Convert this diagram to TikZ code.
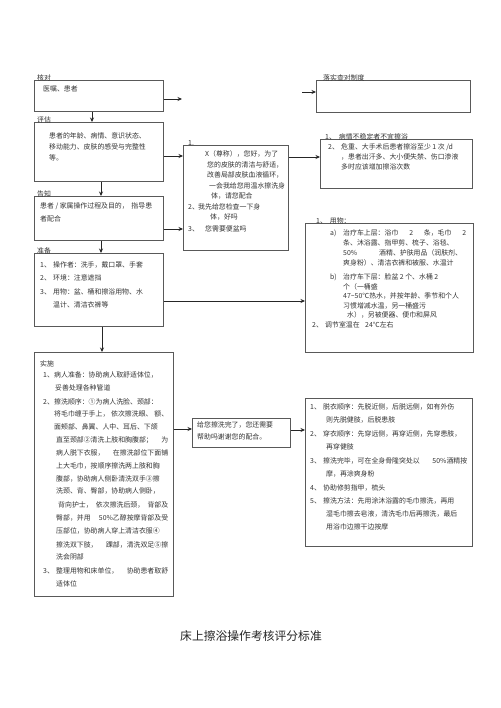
\documentclass[tikz,border=0pt]{standalone}
\usepackage{fontspec}
\setmainfont{Noto Sans CJK SC}
\usetikzlibrary{arrows.meta}
\tikzset{
  box/.style={draw=black!65, line width=0.8pt, anchor=north west, inner sep=0pt},
  txt/.style={anchor=west, inner sep=0pt, text=black!80, font=\fontsize{6.9}{8}\selectfont},
  lbl/.style={anchor=base west, inner sep=0pt, text=black!80, font=\fontsize{6.9}{8}\selectfont},
  arr/.style={-{Stealth[length=4.5pt,width=4pt]}, line width=0.8pt, draw=black!85},
  ttl/.style={inner sep=0pt, text=black!85, font=\fontsize{11.8}{13}\selectfont}
}
\begin{document}
\begin{tikzpicture}[x=1pt,y=-1pt]
\fill[white] (0,0) rectangle (500,708);
\useasboundingbox (0,0) rectangle (500,708);

% ---------- boxes ----------
\node[box, minimum width=129pt, minimum height=31pt] (b1) at (34,80) {};
\node[box, minimum width=154pt, minimum height=32pt] (b2) at (316,80) {};
\node[box, minimum width=129pt, minimum height=59pt] (b3) at (34,122) {};
\node[box, minimum width=105pt, minimum height=105pt] (b4) at (183,145) {};
\node[box, minimum width=152pt, minimum height=49pt] (b6) at (320,139) {};
\node[box, minimum width=129pt, minimum height=44pt] (b5) at (34,196) {};
\node[box, minimum width=129pt, minimum height=73pt] (b7) at (34,253) {};
\node[box, minimum width=168pt, minimum height=129pt] (b8) at (305,223) {};
\node[box, minimum width=139pt, minimum height=244pt] (b9) at (34,352) {};
\node[box, minimum width=98pt, minimum height=29pt] (b10) at (192,418) {};
\node[box, minimum width=167pt, minimum height=148pt] (b11) at (305,398) {};

% ---------- connectors ----------
\coordinate (e1) at (182,99);
\coordinate (e2) at (302,92);
\draw[arr] (b1.east |- 0,99) -- (e1);
\draw[arr] (e2) -- (b2.west |- 0,92);
\draw[arr] (b1.south -| 92,0) -- (b3.north -| 92,0);
\draw[arr] (b3.south -| 101,0) -- (b5.north -| 101,0);
\draw[arr] (b5.south -| 101,0) -- (b7.north -| 101,0);
\draw[arr] (b7.south -| 102,0) -- (b9.north -| 102,0);
\draw[arr] (b3.east |- 0,156) -- (b4.west |- 0,156);
\draw[arr] (b5.east |- 0,229) -- (b4.west |- 0,229);
\draw[arr] (b4.east |- 0,157) -- (b6.west |- 0,157);
\draw[arr] (b7.east |- 0,301) -- (b8.west |- 0,301);
\draw[arr] (b9.east |- 0,429) -- (b10.west |- 0,429);
\draw[arr] (b10.east |- 0,430) -- (b11.west |- 0,430);

% ---------- b1 ----------
\node[lbl] (l1) at (37,81) {核对};
\node[txt] (t1) at (43,89) {医嘱、患者};
% ---------- b2 ----------
\node[lbl] (l2) at (323,81) {落实查对制度};
% ---------- b3 ----------
\node[lbl] (l3) at (37,123) {评估};
\node[txt] (t3a) at (49,136) {患者的年龄、病情、意识状态、};
\node[txt] (t3b) at (49,147) {移动能力、皮肤的感受与完整性};
\node[txt] (t3c) at (49,158) {等。};
% ---------- b4 ----------
\node[lbl] (l4) at (188,146) {1.};
\node[txt] (t4a) at (205,154) {X（尊称），您好，为了};
\node[txt] (t4b) at (207,164.5) {您的皮肤的清洁与舒适，};
\node[txt] (t4c) at (207,175) {改善局部皮肤血液循环，};
\node[txt] (t4d) at (209,186) {一会我给您用温水擦洗身};
\node[txt] (t4e) at (211,196) {体，请您配合};
\node[txt] (t4f) at (188,207) {2、};
\node[txt] (t4g) at (198,207) {我先给您检查一下身};
\node[txt] (t4h) at (210,217) {体，好吗};
\node[txt] (t4i) at (188,229) {3、};
\node[txt] (t4j) at (205,229) {您需要便盆吗};
% ---------- b6 ----------
\node[lbl] (l6) at (325,140) {1、\hspace{3pt}病情不稳定者不宜擦浴};
\node[txt] (t6a) at (328,147) {2、};
\node[txt] (t6b) at (341,147) {危重、大手术后患者擦浴至少 1 次 /d};
\node[txt] (t6c) at (341,157) {，患者出汗多、大小便失禁、伤口渗液};
\node[txt] (t6d) at (341,167) {多时应该增加擦浴次数};
% ---------- b5 ----------
\node[lbl] (l5) at (37,197) {告知};
\node[txt] (t5a) at (40,206) {\makebox[112pt][l]{患者 / 家属操作过程及目的，\hfill 指导患}};
\node[txt] (t5b) at (40,219) {者配合};
% ---------- b7 ----------
\node[lbl] (l7) at (37,254) {准备};
\node[txt] (t7a) at (40,265) {1、};
\node[txt] (t7b) at (53,265) {操作者：洗手，戴口罩、手套};
\node[txt] (t7c) at (40,278) {2、};
\node[txt] (t7d) at (53,278) {环境：注意遮挡};
\node[txt] (t7e) at (40,292) {3、};
\node[txt] (t7f) at (53,292) {用物：盆、桶和擦浴用物、水};
\node[txt] (t7g) at (53,305) {温计、清洁衣裤等};
% ---------- b8 ----------
\node[lbl] (l8) at (316,224) {1、\hspace{3pt}用物：};
\node[txt] (t8a) at (330,233) {a)};
\node[txt] (t8b) at (343,233) {\makebox[123pt][l]{治疗车上层：浴巾\hfill 2\hfill 条，毛巾\hfill 2}};
\node[txt] (t8c) at (343,243) {条、沐浴露、指甲剪、梳子、浴毯、};
\node[txt] (t8d) at (343,253) {\makebox[36pt][l]{50\%}酒精、护肤用品（润肤剂、};
\node[txt] (t8e) at (343,263) {爽身粉）、清洁衣裤和被服、水温计};
\node[txt] (t8f) at (330,277) {b)};
\node[txt] (t8g) at (343,277) {治疗车下层：脸盆 2 个、水桶 2};
\node[txt] (t8h) at (343,287) {个（一桶盛};
\node[txt] (t8i) at (343,296) {47\textasciitilde 50℃热水，并按年龄、季节和个人};
\node[txt] (t8j) at (343,306) {习惯增减水温，另一桶盛污};
\node[txt] (t8k) at (347,315) {水），另被便器、便巾和屏风};
\node[txt] (t8l) at (312,325) {2、};
\node[txt] (t8m) at (325,325) {调节室温在};
\node[txt] (t8n) at (365,325) {24℃左右};
% ---------- b9 ----------
\node[txt] (l9) at (40,364) {实施};
\node[txt] (t9a) at (43,375) {1、};
\node[txt] (t9b) at (54,375) {病人准备：协助病人取舒适体位，};
\node[txt] (t9c) at (55,388) {妥善处理各种管道};
\node[txt] (t9d) at (43,402) {2、};
\node[txt] (t9e) at (54,402) {擦洗顺序：①为病人洗脸、颈部：};
\node[txt] (t9f) at (54,414) {\makebox[114pt][l]{将毛巾缠于手上，\hfill 依次擦洗眼、\hfill 额、}};
\node[txt] (t9g) at (54,427) {面颊部、鼻翼、人中、耳后、下颌};
\node[txt] (t9h) at (56,440) {\makebox[112pt][l]{直至颈部②清洗上肢和胸腹部；\hfill 为}};
\node[txt] (t9i) at (56,453) {\makebox[112pt][l]{病人脱下衣服，\hfill 在擦洗部位下面铺}};
\node[txt] (t9j) at (56,466) {上大毛巾，按顺序擦洗两上肢和胸};
\node[txt] (t9k) at (56,479) {腹部，协助病人侧卧清洗双手③擦};
\node[txt] (t9l) at (56,491) {洗颈、背、臀部，协助病人侧卧，};
\node[txt] (t9m) at (58,505) {\makebox[110pt][l]{背向护士，\hfill 依次擦洗后颈，\hfill 背部及}};
\node[txt] (t9n) at (56,518) {\makebox[112pt][l]{臀部，并用\hfill 50\%乙醇按摩背部及受}};
\node[txt] (t9o) at (56,531) {压部位，协助病人穿上清洁衣服④};
\node[txt] (t9p) at (56,545) {\makebox[112pt][l]{擦洗双下肢，\hfill 踝部，清洗双足⑤擦}};
\node[txt] (t9q) at (56,557) {洗会阴部};
\node[txt] (t9r) at (43,571) {3、};
\node[txt] (t9s) at (56,571) {\makebox[112pt][l]{整理用物和床单位，\hfill 协助患者取舒}};
\node[txt] (t9t) at (56,584) {适体位};
% ---------- b10 ----------
\node[txt] (t10a) at (197,425) {给您擦洗完了，您还需要};
\node[txt] (t10b) at (197,437) {帮助吗谢谢您的配合。};
% ---------- b11 ----------
\node[txt] (t11a) at (310,407) {1、};
\node[txt] (t11b) at (323,407) {脱衣顺序：先脱近侧，后脱远侧，如有外伤};
\node[txt] (t11c) at (326,420) {则先脱健肢，后脱患肢};
\node[txt] (t11d) at (310,434) {2、};
\node[txt] (t11e) at (323,434) {穿衣顺序：先穿远侧，再穿近侧，先穿患肢，};
\node[txt] (t11f) at (326,447) {再穿健肢};
\node[txt] (t11g) at (310,461) {3、};
\node[txt] (t11h) at (323,461) {\makebox[144pt][l]{擦洗完毕，可在全身骨隆突处以\hfill 50\%酒精按}};
\node[txt] (t11i) at (326,474) {摩，再涂爽身粉};
\node[txt] (t11j) at (310,488) {4、};
\node[txt] (t11k) at (323,488) {协助修剪指甲，梳头};
\node[txt] (t11l) at (310,501) {5、};
\node[txt] (t11m) at (323,501) {擦洗方法：先用涂沐浴露的毛巾擦洗，再用};
\node[txt] (t11n) at (326,514) {湿毛巾擦去皂液，清洗毛巾后再擦洗，最后};
\node[txt] (t11o) at (326,527) {用浴巾边擦干边按摩};
% ---------- title ----------
\node[ttl] (title) at (251,636) {床上擦浴操作考核评分标准};
\end{tikzpicture}
\end{document}
